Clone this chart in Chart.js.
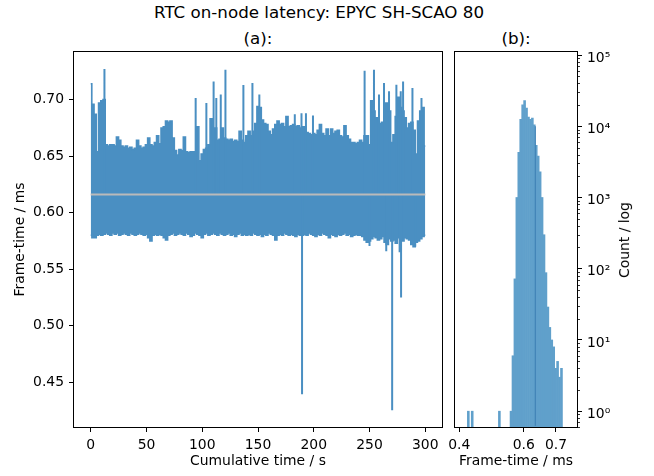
<!DOCTYPE html>
<html>
<head>
  <title>RTC on-node latency</title>
  <meta charset="utf-8" />
  <style>
    body { margin: 0; background: #fff; }
    #fig { position: relative; width: 654px; height: 476px; font-family: "DejaVu Sans", sans-serif; color: #000; }
    #left { position: absolute; left: 0; top: 0; width: 452px; height: 476px; }
    #right { position: absolute; left: 420px; top: 0; width: 234px; height: 476px; }
    .suptitle { position: absolute; left: 319px; top: 4px; font-size: 16.7px; line-height: 1; white-space: nowrap; transform: translateX(-50%); }
    .subtitle { position: absolute; top: 30px; font-size: 16.7px; line-height: 1; white-space: nowrap; transform: translateX(-50%); }
    .ylabel-right { position: absolute; left: 625px; top: 240px; font-size: 13.9px; line-height: 1; white-space: nowrap; transform: translate(-50%, -50%) rotate(-90deg); }
  </style>
</head>
<body>
<div id="fig">
  <div class="suptitle">RTC on-node latency: EPYC SH-SCAO 80</div>
  <div class="subtitle" style="left:258px">(a):</div>
  <div class="subtitle" style="left:516px">(b):</div>
  <div id="left"><canvas id="series"></canvas></div>
  <div id="right"><canvas id="hist"></canvas></div>
  <div class="ylabel-right">Count / log</div>
</div>

<script src="https://cdn.jsdelivr.net/npm/chart.js"></script>
<script>
  // (a) frame-time trace, read as an envelope every 2 s plus the single spikes
  var envStep = 2; // s
  var upperEnv = [
    0.714, 0.696, 0.687, 0.654, 0.697, 0.699, 0.700, 0.660, 0.659, 0.660,
    0.660, 0.659, 0.667, 0.664, 0.659, 0.658, 0.659, 0.657, 0.658, 0.656,
    0.657, 0.664, 0.659, 0.657, 0.658, 0.660, 0.666, 0.660, 0.659, 0.662,
    0.668, 0.661, 0.675, 0.676, 0.681, 0.680, 0.681, 0.666, 0.655, 0.651,
    0.656, 0.655, 0.667, 0.654, 0.653, 0.654, 0.654, 0.654, 0.676, 0.646,
    0.652, 0.656, 0.657, 0.660, 0.683, 0.670, 0.675, 0.664, 0.665, 0.675,
    0.666, 0.665, 0.664, 0.665, 0.663, 0.664, 0.663, 0.672, 0.664, 0.662,
    0.668, 0.672, 0.668, 0.672, 0.679, 0.694, 0.693, 0.682, 0.679, 0.678,
    0.672, 0.669, 0.674, 0.678, 0.681, 0.678, 0.679, 0.676, 0.685, 0.676,
    0.677, 0.678, 0.676, 0.677, 0.675, 0.676, 0.676, 0.671, 0.670, 0.669,
    0.670, 0.669, 0.673, 0.678, 0.670, 0.668, 0.674, 0.668, 0.674, 0.670,
    0.672, 0.673, 0.668, 0.667, 0.677, 0.668, 0.665, 0.662, 0.662, 0.661,
    0.662, 0.664, 0.662, 0.668, 0.668, 0.660, 0.699, 0.690, 0.684, 0.680,
    0.679, 0.680, 0.697, 0.697, 0.690, 0.662, 0.669, 0.685, 0.702, 0.693,
    0.690, 0.684, 0.675, 0.679, 0.680, 0.673, 0.652, 0.681, 0.690, 0.693,
    0.659
  ];
  var lowerEnv = [
    0.580, 0.578, 0.578, 0.580, 0.581, 0.580,
    0.581, 0.582, 0.581, 0.580, 0.582, 0.581, 0.582, 0.580, 0.581, 0.582,
    0.581, 0.580, 0.582, 0.581, 0.580, 0.581, 0.582, 0.581, 0.580, 0.581,
    0.578, 0.575, 0.580, 0.581, 0.580, 0.581, 0.580, 0.578, 0.576, 0.580,
    0.581, 0.582, 0.580, 0.581, 0.582, 0.581, 0.580, 0.582, 0.581, 0.579,
    0.580, 0.582, 0.581, 0.580, 0.578, 0.581, 0.582, 0.580, 0.581, 0.582,
    0.581, 0.580, 0.582, 0.581, 0.580, 0.581, 0.582, 0.580, 0.581, 0.579,
    0.581, 0.582, 0.580, 0.581, 0.580,
    0.581, 0.580, 0.582, 0.581, 0.580, 0.581, 0.579, 0.581, 0.580, 0.582,
    0.581, 0.580, 0.576, 0.580, 0.581, 0.580, 0.582, 0.581, 0.580, 0.581,
    0.580, 0.579, 0.581, 0.580, 0.580,
    0.581, 0.580, 0.582, 0.581, 0.580, 0.579, 0.581, 0.580, 0.582, 0.581,
    0.580, 0.578, 0.581, 0.580, 0.579, 0.581, 0.580, 0.581, 0.582, 0.580,
    0.581, 0.579, 0.580, 0.581, 0.580,
    0.580, 0.579, 0.576, 0.574, 0.575, 0.577, 0.579, 0.578, 0.576, 0.577,
    0.579, 0.574, 0.572, 0.577, 0.575, 0.576, 0.573, 0.578, 0.577, 0.575,
    0.578, 0.577, 0.576, 0.572, 0.570, 0.574, 0.575, 0.577, 0.579, 0.580
  ];
  var spikeTimes = [12.3, 94.1, 103.7, 110.2, 112.6, 116.6, 120.8, 136.9, 145.0, 151.2,
    183.0, 189.0, 189.5, 193.0, 199.3, 245.6, 250.0, 254.0, 258.5, 263.0,
    265.0, 267.5, 270.3, 274.1, 277.0, 278.0, 278.3, 280.1, 288.5, 291.0, 296.6];
  var spikeValues = [0.727, 0.7015, 0.697, 0.716, 0.7015, 0.7045, 0.7265, 0.713, 0.7147, 0.7045,
    0.687, 0.688, 0.4395, 0.688, 0.686, 0.7256, 0.5705, 0.7265, 0.7045, 0.7147,
    0.566, 0.7073, 0.4255, 0.7132, 0.565, 0.7073, 0.525, 0.716, 0.7103, 0.570, 0.7015];
  var meanFrame = 0.6162;
  var timeRange = [0, 300];
  var timeTicks = [0, 50, 100, 150, 200, 250, 300];
  var frameTicks = [0.45, 0.50, 0.55, 0.60, 0.65, 0.70];

  // (b) histogram of frame-times, log counts
  var binCenters = [0.42807, 0.44011, 0.52439,
    0.56051, 0.56653, 0.57255, 0.57857, 0.58459, 0.59061, 0.59663, 0.60265, 0.60867,
    0.61469, 0.62071, 0.62673, 0.63275, 0.63877, 0.64479, 0.65081, 0.65683, 0.66285,
    0.66887, 0.67489, 0.68091, 0.68693, 0.69295, 0.69897, 0.70499, 0.71101, 0.71703];
  var binCounts = [1, 1, 1,
    1, 6, 72, 1000, 4300, 12500, 20000, 23000, 18000,
    13500, 12500, 13000, 10500, 5400, 3800, 2300, 1000, 300,
    88, 29, 15, 10, 8, 4, 5, 3, 4];
  var markerX = 0.6358;
  var markerTop = 10000;
  var histTicks = [0.4, 0.6, 0.7];
  var countTicks = [1, 10, 100, 1000, 10000, 100000];

  var blue = '#4a8fc2';
  var barBlue = '#60a0cb';
  var sup = ['\u2070', '\u00b9', '\u00b2', '\u00b3', '\u2074', '\u2075'];

  Chart.defaults.font.family = '"DejaVu Sans", sans-serif';
  Chart.defaults.font.size = 13.9;
  Chart.defaults.color = '#000';

  // full box around each plot area, like matplotlib spines
  var boxPlugin = {
    id: 'box',
    afterDraw: function(chart) {
      var a = chart.chartArea, ctx = chart.ctx;
      ctx.save();
      ctx.strokeStyle = '#000';
      ctx.lineWidth = 1;
      ctx.strokeRect(a.left - 0.5, a.top - 0.5, a.right - a.left + 1, a.bottom - a.top + 1);
      ctx.restore();
    }
  };

  var minorTickPlugin = {
    id: 'minorTicks',
    afterDraw: function(chart) {
      var s = chart.scales.y, a = chart.chartArea, ctx = chart.ctx;
      ctx.save();
      ctx.strokeStyle = '#000';
      ctx.lineWidth = 0.8;
      for (var e = -1; e <= 5; e++) {
        for (var m = 2; m <= 9; m++) {
          var v = m * Math.pow(10, e);
          if (v < s.min || v > s.max) continue;
          var py = Math.round(s.getPixelForValue(v)) + 0.5;
          ctx.beginPath();
          ctx.moveTo(a.right, py);
          ctx.lineTo(a.right + 3, py);
          ctx.stroke();
        }
      }
      ctx.restore();
    }
  };

  function axisGrid() {
    return { drawOnChartArea: false, drawTicks: true, tickLength: 5, tickColor: '#000', tickWidth: 1 };
  }

  // build the trace datasets from the arrays
  var times = upperEnv.map(function(v, i) { return i * envStep; });
  var upperPts = times.map(function(t, i) { return { x: t, y: upperEnv[i] }; });
  var lowerPts = times.map(function(t, i) { return { x: t, y: lowerEnv[i] }; });
  var spikePts = [];
  spikeTimes.forEach(function(t, i) {
    spikePts.push({ x: t, y: meanFrame }, { x: t, y: spikeValues[i] }, { x: t, y: meanFrame });
  });
  var meanPts = [{ x: timeRange[0], y: meanFrame }, { x: timeRange[1], y: meanFrame }];

  new Chart(document.getElementById('series'), {
    type: 'line',
    data: {
      datasets: [
        { data: meanPts, borderColor: '#bababa', borderWidth: 2, pointRadius: 0, order: 0 },
        { data: spikePts, borderColor: blue, borderWidth: 2, pointRadius: 0, order: 1 },
        { data: upperPts, borderColor: blue, backgroundColor: blue, borderWidth: 1.5, pointRadius: 0, stepped: 'middle', fill: '+1', order: 2 },
        { data: lowerPts, borderColor: blue, borderWidth: 1.5, pointRadius: 0, stepped: 'middle', order: 3 }
      ]
    },
    options: {
      responsive: true,
      maintainAspectRatio: false,
      animation: false,
      events: [],
      layout: { padding: { left: 0, top: 52, right: 10, bottom: 0 } },
      plugins: { legend: { display: false }, tooltip: { enabled: false } },
      scales: {
        x: {
          type: 'linear', min: -15, max: 315,
          afterBuildTicks: function(s) { s.ticks = timeTicks.map(function(v) { return { value: v }; }); },
          afterFit: function(s) { s.height = 49; },
          ticks: { padding: 5, maxRotation: 0, autoSkip: false, callback: function(v) { return String(v); } },
          grid: axisGrid(),
          border: { display: false },
          title: { display: true, text: 'Cumulative time / s', padding: { top: 0, bottom: 6 } }
        },
        y: {
          type: 'linear', min: 0.4106, max: 0.7421,
          afterBuildTicks: function(s) { s.ticks = frameTicks.map(function(v) { return { value: v }; }); },
          afterFit: function(s) { s.width = 74; },
          ticks: { padding: 5, autoSkip: false, callback: function(v) { return v.toFixed(2); } },
          grid: axisGrid(),
          border: { display: false },
          title: { display: true, text: 'Frame-time / ms', padding: { top: 12, bottom: 0 } }
        }
      }
    },
    plugins: [boxPlugin]
  });

  var histPts = binCenters.map(function(c, i) { return { x: c, y: binCounts[i] }; });

  new Chart(document.getElementById('hist'), {
    type: 'bar',
    data: {
      datasets: [
        { type: 'line', data: [{ x: markerX, y: 0.6226 }, { x: markerX, y: markerTop }], borderColor: '#3b7db3', borderWidth: 1, pointRadius: 0, order: 0 },
        { type: 'bar', data: histPts, backgroundColor: barBlue, borderWidth: 0, barPercentage: 1, categoryPercentage: 1, order: 1 }
      ]
    },
    options: {
      responsive: true,
      maintainAspectRatio: false,
      animation: false,
      events: [],
      layout: { padding: { left: 35, top: 52, right: 0, bottom: 0 } },
      plugins: { legend: { display: false }, tooltip: { enabled: false } },
      scales: {
        x: {
          type: 'linear', min: 0.3867, max: 0.7652, offset: false,
          afterBuildTicks: function(s) { s.ticks = histTicks.map(function(v) { return { value: v }; }); },
          afterFit: function(s) { s.height = 49; },
          ticks: { padding: 5, maxRotation: 0, autoSkip: false, callback: function(v) { return v.toFixed(1); } },
          grid: Object.assign(axisGrid(), { offset: false }),
          border: { display: false },
          title: { display: true, text: 'Frame-time / ms', padding: { top: 0, bottom: 6 } }
        },
        y: {
          type: 'logarithmic', position: 'right', min: 0.6226, max: 110200,
          afterBuildTicks: function(s) { s.ticks = countTicks.map(function(v) { return { value: v, major: true }; }); },
          afterFit: function(s) { s.width = 77; },
          ticks: { padding: 5, autoSkip: false, labelOffset: 3, callback: function(v) { return '10' + sup[Math.round(Math.log10(v))]; } },
          grid: axisGrid(),
          border: { display: false }
        }
      }
    },
    plugins: [boxPlugin, minorTickPlugin]
  });
</script>
</body>
</html>
